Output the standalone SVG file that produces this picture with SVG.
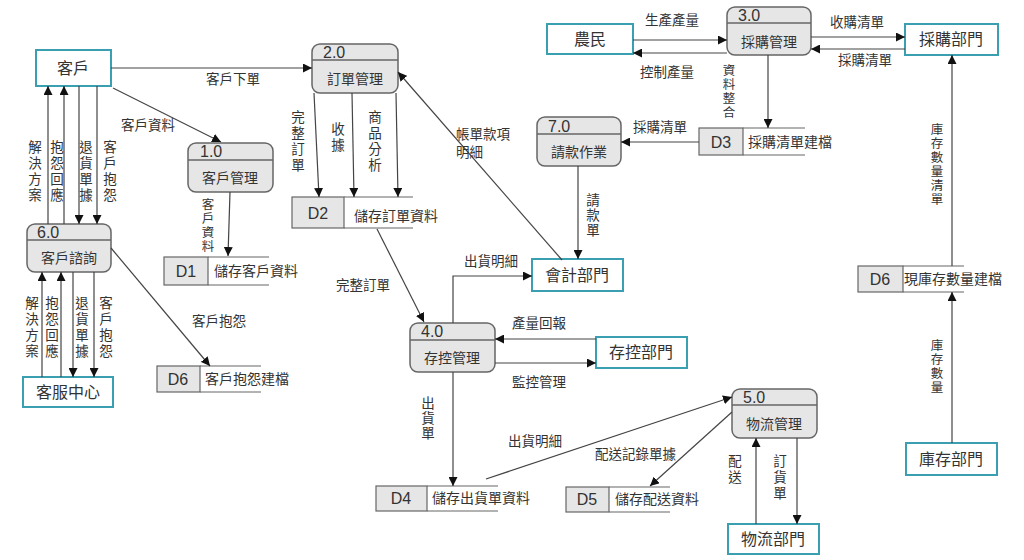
<svg xmlns="http://www.w3.org/2000/svg" width="1024" height="560" viewBox="0 0 1024 560">
<defs>
<marker id="a" viewBox="0 0 10 10" refX="10" refY="5" markerWidth="9" markerHeight="9" markerUnits="userSpaceOnUse" orient="auto"><path d="M0,0 L10,5 L0,10 z" fill="#111"/></marker>
<style>
text{font-family:"Liberation Sans","Noto Sans CJK TC",sans-serif;fill:#333}
.ent rect{fill:#fff;stroke:#3a9fb0;stroke-width:2}
.ent text{font-size:16px;text-anchor:middle}
.proc rect{fill:#e6e6e6;stroke:#666;stroke-width:1.5}
.proc line{stroke:#666;stroke-width:1.5}
.proc .num{font-size:16px}
.proc .nm{font-size:14px;text-anchor:middle}
.ds rect{fill:#e6e6e6;stroke:#666;stroke-width:1.2}
.ds line{stroke:#666;stroke-width:1.2}
.ds .id{font-size:16px;text-anchor:middle}
.ds .nm{font-size:14px}
#conn path{fill:none;stroke:#444;stroke-width:1.2;marker-end:url(#a)}
.lb{font-size:13.5px}
.vl{font-size:13.5px;text-anchor:middle}
.vs{font-size:12.5px;text-anchor:middle}
</style>
</defs>
<rect width="1024" height="560" fill="#fff"/>

<!-- External entities -->
<g id="e-customer" class="ent"><rect x="36" y="50" width="75" height="36"/><text x="73" y="74">客戶</text></g>
<g id="e-service" class="ent"><rect x="23" y="377" width="90" height="30"/><text x="68" y="398">客服中心</text></g>
<g id="e-farmer" class="ent"><rect x="547" y="24" width="86" height="30"/><text x="590" y="45">農民</text></g>
<g id="e-purchase" class="ent"><rect x="905" y="24" width="93" height="31"/><text x="951" y="45">採購部門</text></g>
<g id="e-account" class="ent"><rect x="532" y="259" width="91" height="32"/><text x="577" y="281">會計部門</text></g>
<g id="e-stockctl" class="ent"><rect x="596" y="337" width="91" height="31"/><text x="641" y="358">存控部門</text></g>
<g id="e-logistics" class="ent"><rect x="728" y="524" width="91" height="30"/><text x="773" y="545">物流部門</text></g>
<g id="e-inventory" class="ent"><rect x="906" y="443" width="91" height="32"/><text x="951" y="465">庫存部門</text></g>

<!-- Processes -->
<g id="p1" class="proc"><rect x="188" y="143" width="85" height="49" rx="8"/><line x1="188" y1="160" x2="273" y2="160"/><text class="num" x="200" y="157">1.0</text><text class="nm" x="230" y="183">客戶管理</text></g>
<g id="p2" class="proc"><rect x="312" y="44" width="86" height="49" rx="8"/><line x1="312" y1="60" x2="398" y2="60"/><text class="num" x="323" y="58">2.0</text><text class="nm" x="355" y="84">訂單管理</text></g>
<g id="p3" class="proc"><rect x="727" y="7" width="84" height="48" rx="8"/><line x1="727" y1="23" x2="811" y2="23"/><text class="num" x="738" y="21">3.0</text><text class="nm" x="769" y="47">採購管理</text></g>
<g id="p4" class="proc"><rect x="410" y="323" width="85" height="49" rx="8"/><line x1="410" y1="340" x2="495" y2="340"/><text class="num" x="421" y="337">4.0</text><text class="nm" x="452" y="363">存控管理</text></g>
<g id="p5" class="proc"><rect x="732" y="389" width="85" height="49" rx="8"/><line x1="732" y1="405" x2="817" y2="405"/><text class="num" x="743" y="403">5.0</text><text class="nm" x="774" y="429">物流管理</text></g>
<g id="p6" class="proc"><rect x="27" y="224" width="84" height="48" rx="8"/><line x1="27" y1="240" x2="111" y2="240"/><text class="num" x="37" y="238">6.0</text><text class="nm" x="69" y="263">客戶諮詢</text></g>
<g id="p7" class="proc"><rect x="537" y="117" width="84" height="49" rx="8"/><line x1="537" y1="134" x2="621" y2="134"/><text class="num" x="548" y="132">7.0</text><text class="nm" x="579" y="157">請款作業</text></g>

<!-- Data stores -->
<g id="d1" class="ds"><rect x="164" y="257" width="44" height="28"/><line x1="208" y1="257" x2="269" y2="257"/><line x1="208" y1="285" x2="269" y2="285"/><text class="id" x="186" y="277">D1</text><text class="nm" x="214" y="276">儲存客戶資料</text></g>
<g id="d2" class="ds"><rect x="292" y="197" width="52" height="31"/><line x1="344" y1="197" x2="413" y2="197"/><line x1="344" y1="228" x2="413" y2="228"/><text class="id" x="318" y="219">D2</text><text class="nm" x="354" y="221">儲存訂單資料</text></g>
<g id="d3" class="ds"><rect x="699" y="128" width="44" height="27"/><line x1="743" y1="128" x2="805" y2="128"/><line x1="743" y1="155" x2="805" y2="155"/><text class="id" x="721" y="148">D3</text><text class="nm" x="748" y="147">採購清單建檔</text></g>
<g id="d6r" class="ds"><rect x="858" y="266" width="45" height="26"/><line x1="903" y1="266" x2="964" y2="266"/><line x1="903" y1="292" x2="964" y2="292"/><text class="id" x="880" y="285">D6</text><text class="nm" x="904" y="284">現庫存數量建檔</text></g>
<g id="d6l" class="ds"><rect x="157" y="366" width="43" height="26"/><line x1="200" y1="366" x2="261" y2="366"/><line x1="200" y1="392" x2="261" y2="392"/><text class="id" x="178" y="385">D6</text><text class="nm" x="205" y="384">客戶抱怨建檔</text></g>
<g id="d4" class="ds"><rect x="376" y="486" width="51" height="25"/><line x1="427" y1="486" x2="498" y2="486"/><line x1="427" y1="511" x2="498" y2="511"/><text class="id" x="401" y="504">D4</text><text class="nm" x="432" y="503">儲存出貨單資料</text></g>
<g id="d5" class="ds"><rect x="566" y="487" width="43" height="25"/><line x1="609" y1="487" x2="670" y2="487"/><line x1="609" y1="512" x2="670" y2="512"/><text class="id" x="587" y="505">D5</text><text class="nm" x="615" y="504">儲存配送資料</text></g>

<!-- Connectors -->
<g id="conn">
<path d="M111,68 H312"/>
<path d="M113,88 L221,142"/>
<path d="M230,192 L228,256"/>
<path d="M48,224 V86"/>
<path d="M64,224 V86"/>
<path d="M79,86 V224"/>
<path d="M97,86 V224"/>
<path d="M42,377 V272"/>
<path d="M61,377 V272"/>
<path d="M73,272 V377"/>
<path d="M94,272 V377"/>
<path d="M111,248 L210,366"/>
<path d="M314,93 L319,197"/>
<path d="M352,93 L354,197"/>
<path d="M396,93 L398,197"/>
<path d="M377,229 L424,322"/>
<path d="M562,260 L398,72"/>
<path d="M578,166 V259"/>
<path d="M453,323 V276 H532"/>
<path d="M596,339 H495"/>
<path d="M495,363 H596"/>
<path d="M453,372 V486"/>
<path d="M486,479 L732,397"/>
<path d="M732,412 L650,486"/>
<path d="M756,524 V438"/>
<path d="M797,438 V524"/>
<path d="M952,443 V292"/>
<path d="M952,266 V55"/>
<path d="M633,40 H727"/>
<path d="M727,53 H633"/>
<path d="M811,37 H905"/>
<path d="M905,49 H811"/>
<path d="M768,55 V128"/>
<path d="M699,142 H621"/>
</g>

<!-- Connector labels -->
<g id="labels">
<text class="lb" x="206" y="84">客戶下單</text>
<text class="lb" x="121" y="130">客戶資料</text>
<text class="lb" x="192" y="326">客戶抱怨</text>
<text class="lb" x="336" y="290">完整訂單</text>
<text class="lb" x="456" y="139">帳單款項</text>
<text class="lb" x="456" y="157">明細</text>
<text class="lb" x="464" y="266">出貨明細</text>
<text class="lb" x="512" y="328">產量回報</text>
<text class="lb" x="512" y="387">監控管理</text>
<text class="lb" x="508" y="446">出貨明細</text>
<text class="lb" x="595" y="459">配送記錄單據</text>
<text class="lb" x="645" y="25">生產產量</text>
<text class="lb" x="640" y="77">控制產量</text>
<text class="lb" x="830" y="27">收購清單</text>
<text class="lb" x="838" y="65">採購清單</text>
<text class="lb" x="633" y="132">採購清單</text>

<text class="vl"><tspan x="35" y="152">解</tspan><tspan x="35" y="168">決</tspan><tspan x="35" y="184">方</tspan><tspan x="35" y="200">案</tspan></text>
<text class="vl"><tspan x="57" y="152">抱</tspan><tspan x="57" y="168">怨</tspan><tspan x="57" y="184">回</tspan><tspan x="57" y="200">應</tspan></text>
<text class="vl"><tspan x="86" y="152">退</tspan><tspan x="86" y="168">貨</tspan><tspan x="86" y="184">單</tspan><tspan x="86" y="200">據</tspan></text>
<text class="vl"><tspan x="110" y="152">客</tspan><tspan x="110" y="168">戶</tspan><tspan x="110" y="184">抱</tspan><tspan x="110" y="200">怨</tspan></text>

<text class="vl"><tspan x="32" y="308">解</tspan><tspan x="32" y="324">決</tspan><tspan x="32" y="340">方</tspan><tspan x="32" y="356">案</tspan></text>
<text class="vl"><tspan x="52" y="308">抱</tspan><tspan x="52" y="324">怨</tspan><tspan x="52" y="340">回</tspan><tspan x="52" y="356">應</tspan></text>
<text class="vl"><tspan x="82" y="308">退</tspan><tspan x="82" y="324">貨</tspan><tspan x="82" y="340">單</tspan><tspan x="82" y="356">據</tspan></text>
<text class="vl"><tspan x="106" y="308">客</tspan><tspan x="106" y="324">戶</tspan><tspan x="106" y="340">抱</tspan><tspan x="106" y="356">怨</tspan></text>

<text class="vs"><tspan x="208" y="209">客</tspan><tspan x="208" y="223">戶</tspan><tspan x="208" y="237">資</tspan><tspan x="208" y="251">料</tspan></text>
<text class="vl"><tspan x="298" y="122">完</tspan><tspan x="298" y="138">整</tspan><tspan x="298" y="154">訂</tspan><tspan x="298" y="170">單</tspan></text>
<text class="vl"><tspan x="338" y="134">收</tspan><tspan x="338" y="150">據</tspan></text>
<text class="vl"><tspan x="375" y="122">商</tspan><tspan x="375" y="138">品</tspan><tspan x="375" y="154">分</tspan><tspan x="375" y="170">析</tspan></text>
<text class="vl"><tspan x="593" y="205">請</tspan><tspan x="593" y="220">款</tspan><tspan x="593" y="235">單</tspan></text>
<text class="vs"><tspan x="729" y="75">資</tspan><tspan x="729" y="89">料</tspan><tspan x="729" y="103">整</tspan><tspan x="729" y="117">合</tspan></text>
<text class="vl"><tspan x="428" y="408">出</tspan><tspan x="428" y="423">貨</tspan><tspan x="428" y="438">單</tspan></text>
<text class="vl"><tspan x="735" y="466">配</tspan><tspan x="735" y="482">送</tspan></text>
<text class="vl"><tspan x="780" y="466">訂</tspan><tspan x="780" y="482">貨</tspan><tspan x="780" y="498">單</tspan></text>
<text class="vs"><tspan x="937" y="134">庫</tspan><tspan x="937" y="148">存</tspan><tspan x="937" y="162">數</tspan><tspan x="937" y="176">量</tspan><tspan x="937" y="190">清</tspan><tspan x="937" y="204">單</tspan></text>
<text class="vs"><tspan x="937" y="350">庫</tspan><tspan x="937" y="364">存</tspan><tspan x="937" y="378">數</tspan><tspan x="937" y="392">量</tspan></text>
</g>
</svg>
